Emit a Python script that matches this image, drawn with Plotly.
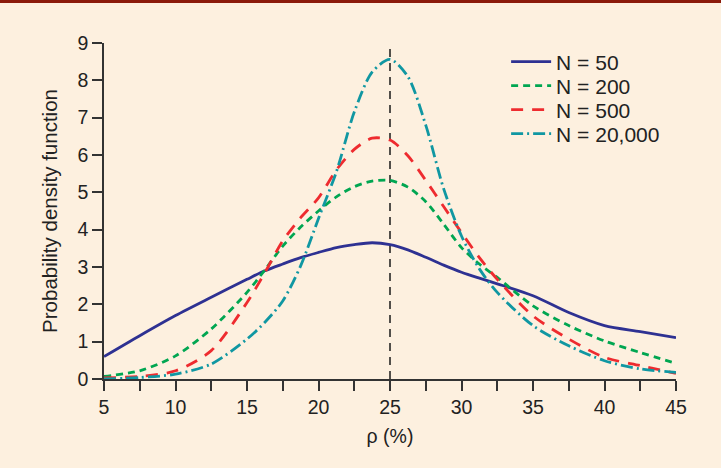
import plotly.graph_objects as go

rho = [5, 7.5, 10, 12.5, 15, 16.25, 17.5, 18.75, 20, 21.25, 22.5, 23.75, 25,
       26.25, 27.5, 28.75, 30, 31.25, 32.5, 35, 37.5, 40, 42.5, 45]

pdf_n50 = [0.60, 1.16, 1.70, 2.19, 2.67, 2.90, 3.08, 3.25, 3.39, 3.52, 3.60, 3.65, 3.60,
           3.46, 3.26, 3.05, 2.86, 2.70, 2.55, 2.23, 1.78, 1.43, 1.27, 1.11]
pdf_n200 = [0.07, 0.22, 0.62, 1.34, 2.32, 2.92, 3.56, 4.07, 4.50, 4.88, 5.15, 5.30, 5.32,
            5.14, 4.75, 4.15, 3.52, 3.08, 2.72, 1.96, 1.43, 1.02, 0.71, 0.42]
pdf_n500 = [0.03, 0.07, 0.22, 0.76, 2.05, 2.85, 3.70, 4.32, 4.85, 5.60, 6.15, 6.45, 6.40,
            5.98, 5.32, 4.62, 3.92, 3.25, 2.67, 1.69, 1.07, 0.58, 0.36, 0.15]
pdf_n20000 = [0.00, 0.04, 0.13, 0.40, 1.07, 1.52, 2.09, 3.03, 4.30, 5.55, 7.15, 8.22, 8.56,
              8.10, 6.80, 5.10, 3.83, 2.95, 2.32, 1.43, 0.89, 0.49, 0.27, 0.18]

names = ["N = 50", "N = 200", "N = 500", "N = 20,000"]
x_ticks = [5, 10, 15, 20, 25, 30, 35, 40, 45]
x_minor = [7.5, 12.5, 17.5, 22.5, 27.5, 32.5, 37.5, 42.5]
y_ticks = [0, 1, 2, 3, 4, 5, 6, 7, 8, 9]
true_rho = 25

series = [
    (pdf_n50, names[0], "#2E3192", "solid"),
    (pdf_n200, names[1], "#00A651", "7px,5px"),
    (pdf_n500, names[2], "#EE2B2F", "12px,9px"),
    (pdf_n20000, names[3], "#1097A2", "12px,4px,2px,4px"),
]

legend_ids = ["legend", "legend2", "legend3", "legend4"]
legend_rows = [0.9435, 0.872, 0.8006, 0.729]

fig = go.Figure()
for (ys, nm, col, dash), lid in zip(series, legend_ids):
    fig.add_trace(go.Scatter(
        x=rho, y=ys, name=nm, mode="lines", legend=lid,
        line=dict(color=col, width=2.8, dash=dash, shape="spline", smoothing=0.8),
    ))

fig.add_shape(type="line", xref="x", yref="y", x0=true_rho, x1=true_rho, y0=0, y1=9,
              line=dict(color="#1a1a1a", width=1.5, dash="8px,6px"), layer="below")

# top dark red rule (3 px at the top of the page)
fig.add_shape(type="rect", xref="paper", yref="paper", x0=-0.3, x1=1.2,
              y0=1.119, y1=1.2, fillcolor="#8B1A0A", line=dict(width=0))

font = "Liberation Sans, Arial, sans-serif"
axis_col = "#333333"

legend_common = dict(x=0.703, xanchor="left", yanchor="middle",
                     bgcolor="rgba(0,0,0,0)", font=dict(size=21, color="#222222"),
                     borderwidth=0, itemwidth=40)
legends = {lid: dict(legend_common, y=yr) for lid, yr in zip(legend_ids, legend_rows)}

fig.update_layout(
    width=721, height=468,
    margin=dict(l=104, r=45, t=43, b=89),
    paper_bgcolor="#FDF0DF", plot_bgcolor="#FDF0DF",
    font=dict(family=font, size=20, color="#222222"),
    showlegend=True,
    xaxis=dict(range=[5, 45], tickvals=x_ticks, ticks="outside", ticklen=10,
               tickwidth=1.5, tickcolor=axis_col, showline=True, linecolor=axis_col,
               linewidth=1.5, showgrid=False, zeroline=False, automargin=False,
               title=dict(text="ρ (%)", font=dict(size=19.5), standoff=12),
               tickfont=dict(size=19.5),
               minor=dict(tickvals=x_minor, ticks="outside", ticklen=10,
                          tickwidth=1.5, tickcolor=axis_col)),
    yaxis=dict(range=[0, 9], tickvals=y_ticks, ticks="outside", ticklen=10,
               tickwidth=1.5, tickcolor=axis_col, showline=True, linecolor=axis_col,
               linewidth=1.5, showgrid=False, zeroline=False, automargin=False,
               title=dict(text="Probability density function", font=dict(size=20.5),
                          standoff=14),
               tickfont=dict(size=19.5)),
    **legends,
)

fig.write_html("out.html", config={"displayModeBar": False},
               post_script="document.body.style.margin='0';")
